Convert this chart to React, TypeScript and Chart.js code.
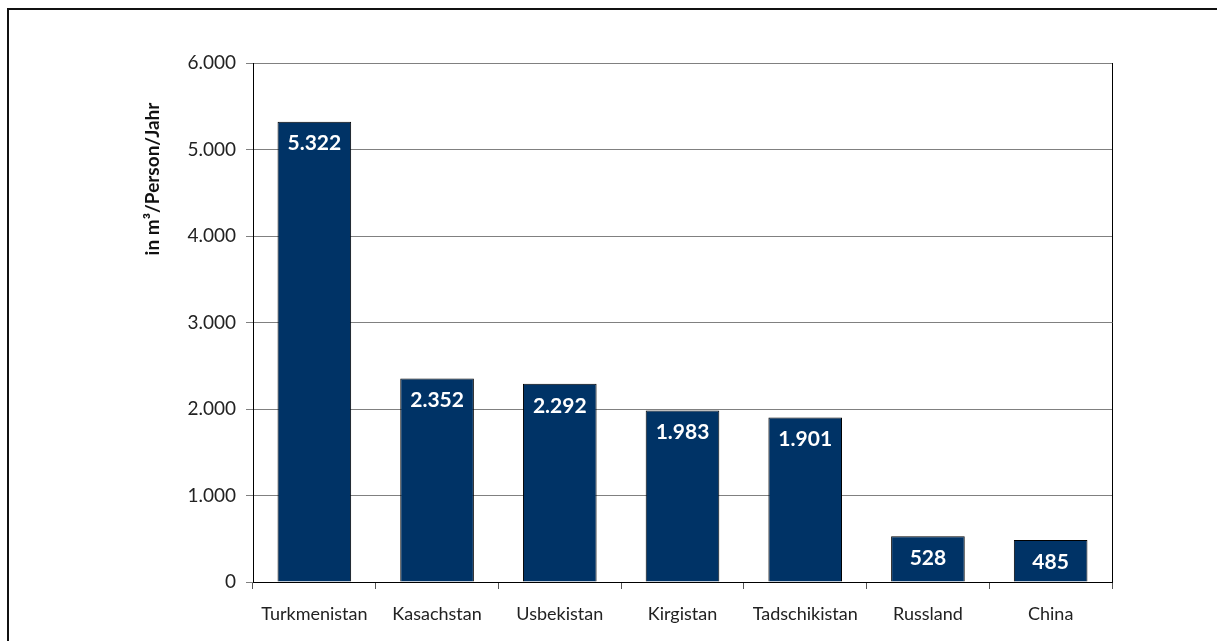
import React, { useEffect, useRef } from "react";
import { Chart, registerables } from "chart.js";

Chart.register(...registerables);

const categories = ["Turkmenistan", "Kasachstan", "Usbekistan", "Kirgistan", "Tadschikistan", "Russland", "China"];
const values = [5322, 2352, 2292, 1983, 1901, 528, 485];
const yTicks = [0, 1000, 2000, 3000, 4000, 5000, 6000];
const yTitle = "in m³/Person/Jahr";

const fmt = (v: number) => v.toLocaleString("de-DE");

const FONT = "Lato, 'Open Sans', sans-serif";

export default function App() {
  const ref = useRef<HTMLCanvasElement | null>(null);
  useEffect(() => {
    if (!ref.current) return;
    const labelPlugin = {
      id: "labels",
      afterDatasetsDraw(chart: any) {
        const ctx = chart.ctx;
        const meta = chart.getDatasetMeta(0);
        ctx.save();
        ctx.fillStyle = "#ffffff";
        ctx.font = `bold 21px ${FONT}`;
        ctx.textAlign = "center";
        ctx.textBaseline = "middle";
        meta.data.forEach((bar: any, i: number) => {
          ctx.fillText(fmt(values[i]), bar.x, bar.y + 22);
        });
        ctx.restore();
      },
      afterDraw(chart: any) {
        const ctx = chart.ctx;
        const a = chart.chartArea;
        ctx.save();
        ctx.strokeStyle = "#000";
        ctx.lineWidth = 1;
        ctx.beginPath();
        ctx.moveTo(Math.round(a.right) + 0.5, a.top);
        ctx.lineTo(Math.round(a.right) + 0.5, a.bottom);
        ctx.stroke();
        ctx.translate(153, 179);
        ctx.rotate(-Math.PI / 2);
        ctx.fillStyle = "#111";
        ctx.font = `bold 19px ${FONT}`;
        ctx.textAlign = "center";
        ctx.textBaseline = "middle";
        ctx.fillText(yTitle, 0, 0);
        ctx.restore();
      },
    };
    const chart = new Chart(ref.current, {
      type: "bar",
      data: {
        labels: categories,
        datasets: [
          {
            data: values,
            backgroundColor: "#003366",
            borderColor: "#000000",
            borderWidth: 1,
            barPercentage: 0.6,
            categoryPercentage: 1.0,
          },
        ],
      },
      options: {
        animation: false,
        responsive: false,
        maintainAspectRatio: false,
        layout: { padding: { left: 0, right: 105, top: 63, bottom: 0 } },
        plugins: { legend: { display: false }, tooltip: { enabled: false } },
        scales: {
          y: {
            min: 0,
            max: 6000,
            afterFit: (s: any) => {
              s.width = 253;
            },
            afterBuildTicks: (s: any) => {
              s.ticks = yTicks.map((v) => ({ value: v }));
            },
            ticks: {
              color: "#222",
              font: { family: FONT, size: 19 },
              padding: 10,
              callback: (v: any) => fmt(Number(v)),
            },
            grid: { color: "#808080", lineWidth: 1, tickLength: 7 },
            border: { color: "#000", width: 1 },
          },
          x: {
            afterFit: (s: any) => {
              s.height = 59;
            },
            ticks: {
              color: "#222",
              font: { family: FONT, size: 18 },
              padding: 14,
              maxRotation: 0,
              autoSkip: false,
            },
            grid: {
              offset: true,
              drawOnChartArea: false,
              drawTicks: true,
              tickLength: 7,
              color: "#555",
            },
            border: { color: "#000", width: 1 },
          },
        },
      },
      plugins: [labelPlugin],
    });
    return () => chart.destroy();
  }, []);
  return (
    <div
      style={{
        position: "fixed",
        left: 0,
        top: 0,
        width: 1217,
        height: 641,
        background: "#fff",
        overflow: "hidden",
      }}
    >
      <canvas ref={ref} width={1217} height={641} style={{ position: "absolute", left: 0, top: 0, width: 1217, height: 641 }} />
      <div
        style={{
          position: "absolute",
          left: 7,
          top: 8,
          width: 1400,
          height: 800,
          borderLeft: "2px solid #111",
          borderTop: "2px solid #111",
          pointerEvents: "none",
        }}
      />
    </div>
  );
}
